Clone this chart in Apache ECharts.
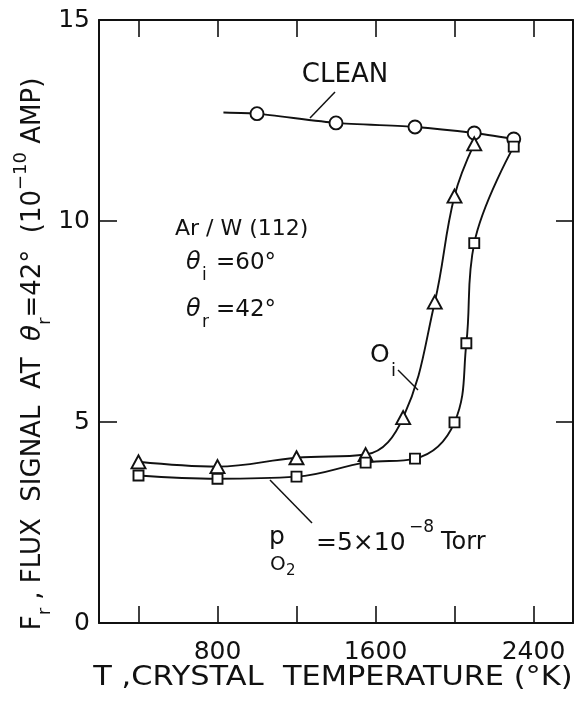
<!DOCTYPE html>
<html>
<head>
<meta charset="utf-8">
<script src="https://cdn.jsdelivr.net/npm/echarts@6/dist/echarts.min.js"></script>
<style>
html,body{margin:0;padding:0;background:#fff;}
#c{width:576px;height:713px;}
</style>
</head>
<body>
<div id="c"></div>
<script>
// ---- data ----
var xTickValues = [400, 800, 1200, 1600, 2000, 2400];
var xLabelValues = [800, 1600, 2400];
var yTickValues = [0, 5, 10, 15];

// CLEAN (circles); the line starts a little left of the first circle
var cleanLineStartT = 830, cleanLineStartF = 12.70;
var cleanT = [1000, 1400, 1800, 2100, 2300];
var cleanF = [12.67, 12.44, 12.34, 12.19, 12.04];

// O_i (triangles)
var oiT = [400, 800, 1200, 1550, 1740, 1900, 2000, 2100];
var oiF = [4.01, 3.89, 4.11, 4.19, 5.11, 7.98, 10.62, 11.92];

// p_O2 = 5e-8 Torr (squares)
var poT = [400, 800, 1200, 1550, 1800, 2000, 2060, 2100, 2300];
var poF = [3.67, 3.59, 3.64, 3.99, 4.09, 4.99, 6.96, 9.45, 11.85];

function pairs(xs, ys){ return xs.map(function(x,i){ return [x, ys[i]]; }); }

var FONT = 'DejaVu Sans';
var BLACK = '#111';

var cleanData = [{value:[cleanLineStartT, cleanLineStartF], symbol:'none'}].concat(pairs(cleanT, cleanF));

var chart = echarts.init(document.getElementById('c'), null, {renderer:'canvas'});

var axisLineStyle = {color: BLACK, width: 2};
var tickStyle = {color: BLACK, width: 1.6};

function txt(x, y, s, size, opts){
  opts = opts || {};
  return {type:'text', x:x, y:y, scaleX: opts.scaleX || 1, rotation: opts.rotation || 0,
    style:{text:s, fontSize:size, fontFamily:FONT, fontStyle: opts.italic ? 'italic' : 'normal',
           fill:BLACK, align: opts.align || 'left', verticalAlign:'middle'}};
}

var option = {
  backgroundColor: '#fff',
  animation: false,
  grid: {left: 99, top: 20, right: 3, bottom: 90, containLabel: false},
  xAxis: [{
    type: 'value', min: 200, max: 2600, position: 'bottom',
    axisLine: {show: true, onZero: false, lineStyle: axisLineStyle},
    axisTick: {show: true, inside: true, length: 17, customValues: xTickValues, lineStyle: tickStyle},
    axisLabel: {show: true, customValues: xLabelValues, fontSize: 25, fontFamily: FONT, color: BLACK, margin: 17,
                formatter: function(v){ return String(v); }},
    splitLine: {show: false}
  }, {
    type: 'value', min: 200, max: 2600, position: 'top',
    axisLine: {show: true, onZero: false, lineStyle: axisLineStyle},
    axisTick: {show: true, inside: true, length: 17, customValues: xTickValues, lineStyle: tickStyle},
    axisLabel: {show: false},
    splitLine: {show: false}
  }],
  yAxis: [{
    type: 'value', min: 0, max: 15, interval: 5, position: 'left',
    axisLine: {show: true, onZero: false, lineStyle: axisLineStyle},
    axisTick: {show: true, inside: true, length: 18, lineStyle: tickStyle},
    axisLabel: {show: true, fontSize: 25, fontFamily: FONT, color: BLACK, margin: 9},
    splitLine: {show: false}
  }, {
    type: 'value', min: 0, max: 15, interval: 5, position: 'right',
    axisLine: {show: true, onZero: false, lineStyle: axisLineStyle},
    axisTick: {show: true, inside: true, length: 17, lineStyle: tickStyle},
    axisLabel: {show: false},
    splitLine: {show: false}
  }],
  series: [{
    name: 'CLEAN', type: 'line', data: cleanData, smooth: 0.2,
    symbol: 'circle', symbolSize: 13, showAllSymbol: true,
    lineStyle: {color: BLACK, width: 1.9},
    itemStyle: {color: '#fff', borderColor: BLACK, borderWidth: 1.9},
    z: 3
  }, {
    name: 'Oi', type: 'line', data: pairs(oiT, oiF), smooth: 0.4,
    symbol: 'triangle', symbolSize: [14, 13], showAllSymbol: true,
    lineStyle: {color: BLACK, width: 1.9},
    itemStyle: {color: '#fff', borderColor: BLACK, borderWidth: 1.9},
    z: 3
  }, {
    name: 'pO2', type: 'line', data: pairs(poT, poF), smooth: 0.4,
    symbol: 'rect', symbolSize: 10, showAllSymbol: true,
    lineStyle: {color: BLACK, width: 1.9},
    itemStyle: {color: '#fff', borderColor: BLACK, borderWidth: 1.9},
    z: 3
  }],
  graphic: [
    // x-axis title
    txt(333, 678, 'T ,CRYSTAL  TEMPERATURE (°K)', 26, {align:'center', scaleX: 1.17}),
    // y-axis title (rotated)
    {type:'text', x: 33, y: 354, rotation: Math.PI/2,
     style:{
       text:'{t|F}{sub|r}{t| , FLUX  SIGNAL  AT  }{it|θ}{sub|r}{t|=42°  (10}{sup|−10}{t| AMP)}',
       align:'center', verticalAlign:'middle', fill:BLACK,
       rich:{
         t:{fontSize:26, fontFamily:FONT, lineHeight:42, verticalAlign:'middle', fill:BLACK},
         it:{fontSize:26, fontFamily:FONT, fontStyle:'italic', lineHeight:42, verticalAlign:'middle', fill:BLACK},
         sub:{fontSize:18, fontFamily:FONT, lineHeight:20, verticalAlign:'bottom', fill:BLACK},
         sup:{fontSize:18, fontFamily:FONT, lineHeight:20, verticalAlign:'top', fill:BLACK}
       }
     }},
    // CLEAN label + leader
    txt(345, 75, 'CLEAN', 26, {align:'center'}),
    {type:'line', shape:{x1:335, y1:92, x2:310, y2:118}, style:{stroke:BLACK, lineWidth:1.5}},
    // Condition block
    txt(175, 229, 'Ar / W (112)', 22),
    txt(186, 263, 'θ', 24, {italic:true}),
    txt(202, 276, 'i', 17),
    txt(216, 263, '=60°', 23),
    txt(186, 310, 'θ', 24, {italic:true}),
    txt(202, 323, 'r', 17),
    txt(216, 310, '=42°', 23),
    // O_i label + leader
    txt(370, 355, 'O', 25),
    txt(391, 371, 'i', 18),
    {type:'line', shape:{x1:398, y1:370, x2:418, y2:390}, style:{stroke:BLACK, lineWidth:1.5}},
    // p_O2 label + leader
    {type:'line', shape:{x1:270, y1:480, x2:312, y2:523}, style:{stroke:BLACK, lineWidth:1.5}},
    txt(269, 537, 'p', 25),
    txt(270, 565, 'O', 20),
    txt(286, 571, '2', 15),
    txt(316, 543, '=5×10', 25),
    txt(409, 528, '−8', 17),
    txt(441, 543, 'Torr', 24)
  ]
};
chart.setOption(option);
</script>
</body>
</html>
